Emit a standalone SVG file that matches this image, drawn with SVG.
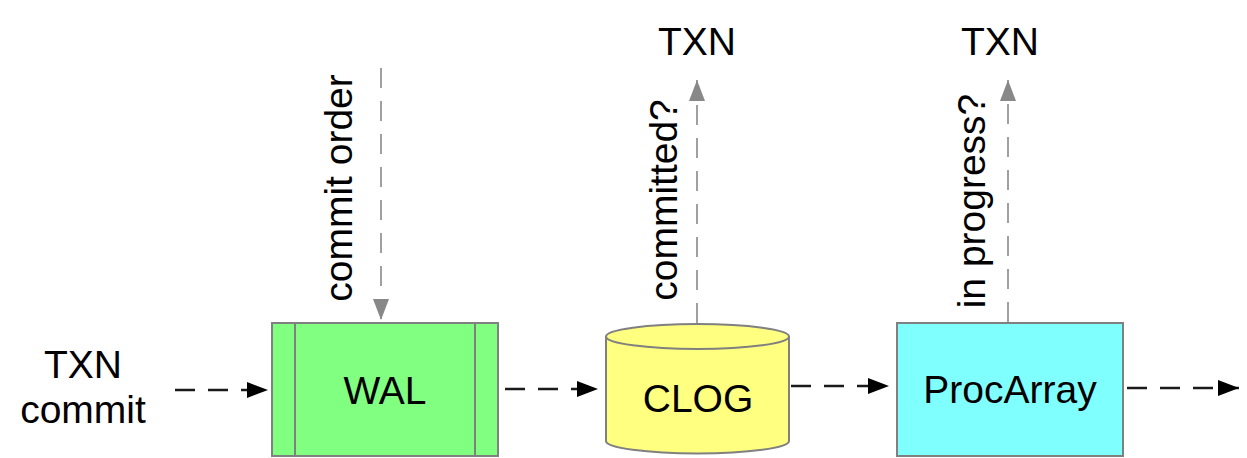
<svg xmlns="http://www.w3.org/2000/svg" width="1247" height="458" viewBox="0 0 1247 458">
<style>
text{font-family:"Liberation Sans",Arial,sans-serif;font-size:39px;fill:#000;text-anchor:middle}
.box{stroke:#808080;stroke-width:2}
.h{stroke:#1a1a1a;stroke-width:2.5;stroke-dasharray:20 13;fill:none}
.v{stroke:#a0a0a0;stroke-width:2;stroke-dasharray:20 13;fill:none}
</style>
<defs>
<marker id="ab" markerUnits="userSpaceOnUse" markerWidth="22" markerHeight="18" refX="21" refY="8" orient="auto">
<path d="M0,0 L21,8 L0,16 Z" fill="#000"/>
</marker>
<marker id="ag" markerUnits="userSpaceOnUse" markerWidth="22" markerHeight="18" refX="21" refY="8" orient="auto">
<path d="M0,0 L21,8 L0,16 Z" fill="#888"/>
</marker>
</defs>
<rect width="1247" height="458" fill="#fff"/>
<g id="input">
<text x="83" y="378">TXN</text>
<text x="83" y="423">commit</text>
</g>
<g id="wal">
<rect class="box" x="272" y="323" width="226" height="133" fill="#80ff80"/>
<line class="box" x1="295" y1="323" x2="295" y2="456"/>
<line class="box" x1="475" y1="323" x2="475" y2="456"/>
<text x="385" y="404">WAL</text>
</g>
<g id="clog">
<path class="box" d="M606,336.5 L606,441 A91.5,12.5 0 0 0 789,441 L789,336.5 A91.5,12.5 0 0 0 606,336.5 Z" fill="#ffff80"/>
<path class="box" d="M606,336.5 A91.5,12.5 0 0 0 789,336.5" fill="none"/>
<text x="698" y="412">CLOG</text>
</g>
<g id="procarray">
<rect class="box" x="897" y="323" width="226" height="133" fill="#80ffff"/>
<text x="1010" y="403">ProcArray</text>
</g>
<g id="txn1"><text x="697" y="55">TXN</text></g>
<g id="txn2"><text x="1000" y="55">TXN</text></g>
<g id="connectors">
<line class="h" x1="175" y1="390" x2="268" y2="390" marker-end="url(#ab)"/>
<line class="h" x1="505" y1="389" x2="598" y2="389" marker-end="url(#ab)"/>
<line class="h" x1="791" y1="386" x2="889" y2="386" marker-end="url(#ab)"/>
<line class="h" x1="1127" y1="388" x2="1239" y2="388" marker-end="url(#ab)"/>
<line class="v" x1="381" y1="68" x2="381" y2="320" marker-end="url(#ag)"/>
<line class="v" x1="697" y1="323" x2="697" y2="80" marker-end="url(#ag)"/>
<line class="v" x1="1008" y1="322" x2="1008" y2="80" marker-end="url(#ag)"/>
<text transform="translate(352,188) rotate(-90)">commit order</text>
<text transform="translate(677,200) rotate(-90)">committed?</text>
<text transform="translate(985,201) rotate(-90)">in progress?</text>
</g>
</svg>
